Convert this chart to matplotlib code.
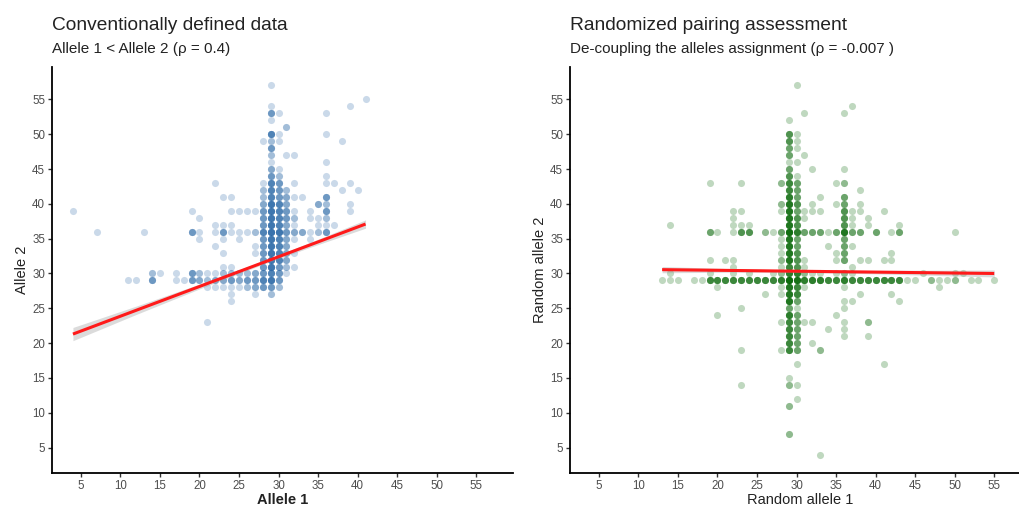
import numpy as np
import matplotlib
matplotlib.use("Agg")
import matplotlib.pyplot as plt

plt.rcParams['font.family'] = ['Liberation Sans', 'DejaVu Sans']

# ---- left panel: conventional allele pairs (allele1, allele2, how many overlap) ----
conv_low = [(4, 39, 1), (7, 36, 1), (13, 36, 1), (11, 29, 1), (12, 29, 1), (14, 30, 2), (14, 29, 4),
            (15, 30, 1), (17, 30, 1), (17, 29, 1), (18, 29, 1), (19, 30, 4), (19, 29, 4),
            (20, 30, 2), (20, 29, 3), (21, 30, 1), (21, 29, 2), (21, 28, 1), (22, 30, 1), (22, 29, 3),
            (22, 28, 1), (23, 31, 1), (23, 30, 2), (23, 29, 3), (23, 28, 1), (24, 31, 1), (24, 30, 2),
            (24, 29, 4), (24, 28, 1), (24, 27, 1), (24, 26, 1), (25, 30, 2), (25, 29, 3), (25, 28, 1),
            (26, 30, 2), (26, 29, 4), (26, 28, 2), (27, 30, 3), (27, 29, 4), (27, 28, 3), (27, 27, 1),
            (28, 30, 4), (28, 29, 6), (28, 28, 4), (21, 23, 1)]
conv_mid = [(19, 39, 1), (20, 38, 1), (19, 36, 4), (20, 36, 1), (20, 35, 1), (22, 43, 1), (23, 41, 1),
            (24, 41, 1), (24, 39, 1), (25, 39, 1), (26, 39, 1), (27, 39, 1), (22, 37, 1), (23, 37, 1),
            (22, 36, 1), (23, 36, 4), (24, 37, 1), (24, 36, 1), (25, 36, 1), (26, 36, 1), (27, 36, 2),
            (23, 35, 1), (25, 35, 1), (22, 34, 1), (23, 33, 1), (27, 34, 1), (27, 33, 1)]
conv_col = [(28, 49, 1), (28, 43, 1), (28, 42, 2), (28, 41, 2), (28, 40, 3), (28, 39, 4), (28, 38, 4),
            (28, 37, 4), (28, 36, 6), (28, 35, 4), (28, 34, 4), (28, 33, 4), (28, 32, 4), (28, 31, 4),
            (29, 57, 1), (29, 54, 1), (29, 53, 4), (29, 52, 1), (29, 50, 6), (29, 49, 2), (29, 48, 4),
            (29, 47, 2), (29, 46, 1), (29, 45, 3), (29, 44, 4), (29, 43, 6), (29, 42, 6), (29, 41, 6),
            (29, 40, 8), (29, 39, 8), (29, 38, 8), (29, 37, 8), (29, 36, 9), (29, 35, 8), (29, 34, 8),
            (29, 33, 8), (29, 32, 8), (29, 31, 8), (29, 30, 6), (29, 29, 8), (29, 28, 4), (29, 27, 2),
            (30, 53, 1), (30, 50, 1), (30, 49, 1), (30, 45, 1), (30, 44, 2), (30, 43, 4), (30, 42, 4),
            (30, 41, 4), (30, 40, 6), (30, 39, 6), (30, 38, 6), (30, 37, 6), (30, 36, 8), (30, 35, 6),
            (30, 34, 6), (30, 33, 6), (30, 32, 6), (30, 31, 4), (30, 30, 4), (30, 29, 4), (30, 28, 2),
            (31, 51, 2), (31, 47, 1), (31, 42, 2), (31, 41, 3), (31, 40, 3), (31, 39, 4), (31, 38, 4),
            (31, 37, 3), (31, 36, 4), (31, 35, 3), (31, 34, 3), (31, 33, 3), (31, 32, 3), (31, 31, 2),
            (31, 30, 1)]
conv_high = [(32, 47, 1), (32, 43, 1), (32, 41, 1), (32, 39, 1), (32, 38, 2), (32, 37, 1), (32, 36, 3),
             (32, 35, 1), (32, 33, 1), (32, 31, 1), (33, 41, 1), (33, 36, 3), (34, 39, 1), (34, 38, 1),
             (34, 36, 1), (34, 35, 1), (35, 40, 3), (35, 38, 1), (35, 37, 1), (35, 36, 2), (36, 53, 1),
             (36, 50, 1), (36, 46, 1), (36, 44, 1), (36, 43, 1), (36, 41, 4), (36, 40, 2), (36, 39, 4),
             (36, 38, 2), (36, 37, 1), (36, 36, 4), (37, 43, 1), (37, 37, 1), (38, 49, 1), (38, 42, 1),
             (39, 54, 1), (39, 43, 1), (39, 40, 1), (39, 39, 1), (40, 42, 1), (41, 55, 1)]

# fitted line and its confidence band
conv_fit_x = [4, 41]
conv_fit_y = [21.3, 37.1]
conv_band_x = [4, 12, 20, 28, 34, 41]
conv_band_hw = [0.95, 0.6, 0.35, 0.25, 0.35, 0.6]

# ---- right panel: randomly paired alleles ----
rand_row = [(13, 29, 1), (14, 29, 1), (15, 29, 1), (17, 29, 1), (18, 29, 1), (19, 29, 5), (20, 29, 5),
            (21, 29, 5), (22, 29, 5), (23, 29, 5), (24, 29, 5), (25, 29, 5), (26, 29, 5), (27, 29, 5),
            (28, 29, 6), (29, 29, 10), (30, 29, 8), (31, 29, 6), (32, 29, 6), (33, 29, 6), (34, 29, 5),
            (35, 29, 5), (36, 29, 6), (37, 29, 5), (38, 29, 5), (39, 29, 5), (40, 29, 5), (41, 29, 5),
            (42, 29, 5), (43, 29, 5), (44, 29, 1), (45, 29, 1), (47, 29, 2), (48, 29, 1), (49, 29, 1),
            (50, 29, 2), (52, 29, 1), (53, 29, 1), (55, 29, 1),
            (14, 30, 1), (19, 30, 1), (22, 30, 1), (24, 30, 1), (27, 30, 1), (28, 30, 2), (29, 30, 6),
            (30, 30, 6), (31, 30, 2), (32, 30, 1), (33, 30, 1), (35, 30, 1), (36, 30, 2), (37, 30, 1),
            (46, 30, 1), (50, 30, 1), (51, 30, 1)]
rand_below = [(20, 28, 1), (28, 28, 1), (29, 28, 7), (30, 28, 5), (31, 28, 1), (36, 28, 1), (48, 28, 1),
              (26, 27, 1), (28, 27, 1), (29, 27, 7), (30, 27, 5), (38, 27, 1), (42, 27, 1),
              (29, 26, 7), (30, 26, 3), (36, 26, 1), (37, 26, 1), (43, 26, 1),
              (23, 25, 1), (29, 25, 3), (30, 25, 1), (36, 25, 1),
              (20, 24, 1), (29, 24, 6), (30, 24, 3), (35, 24, 1),
              (28, 23, 1), (29, 23, 5), (30, 23, 3), (31, 23, 1), (32, 23, 1), (36, 23, 1), (39, 23, 2),
              (29, 22, 5), (30, 22, 3), (34, 22, 1), (36, 22, 1),
              (29, 21, 5), (30, 21, 3), (36, 21, 1), (39, 21, 1),
              (29, 20, 5), (30, 20, 3), (32, 20, 1),
              (23, 19, 1), (28, 19, 1), (29, 19, 5), (30, 19, 3), (33, 19, 2),
              (30, 17, 1), (41, 17, 1), (29, 15, 1), (23, 14, 1), (29, 14, 2), (30, 14, 1),
              (30, 12, 1), (29, 11, 2), (29, 7, 2), (33, 4, 1)]
rand_above = [(22, 31, 1), (28, 31, 1), (29, 31, 5), (30, 31, 4), (31, 31, 1), (37, 31, 1),
              (19, 32, 1), (21, 32, 1), (22, 32, 1), (28, 32, 2), (29, 32, 7), (30, 32, 4), (31, 32, 1),
              (35, 32, 1), (36, 32, 3), (38, 32, 1), (39, 32, 1), (41, 32, 1), (42, 32, 1),
              (28, 33, 1), (29, 33, 7), (30, 33, 4), (35, 33, 1), (36, 33, 3), (42, 33, 1),
              (28, 34, 1), (29, 34, 7), (30, 34, 3), (34, 34, 1), (36, 34, 3), (37, 34, 1),
              (28, 35, 1), (29, 35, 7), (30, 35, 3), (36, 35, 3),
              (19, 36, 3), (20, 36, 1), (22, 36, 1), (23, 36, 4), (24, 36, 4), (26, 36, 2), (27, 36, 1),
              (28, 36, 3), (29, 36, 9), (30, 36, 6), (31, 36, 3), (32, 36, 3), (33, 36, 3), (34, 36, 1),
              (35, 36, 3), (36, 36, 7), (37, 36, 3), (38, 36, 3), (40, 36, 3), (42, 36, 1), (43, 36, 3),
              (50, 36, 1),
              (14, 37, 1), (22, 37, 1), (23, 37, 1), (24, 37, 1), (29, 37, 7), (30, 37, 4), (36, 37, 4),
              (37, 37, 1), (39, 37, 1), (43, 37, 1),
              (22, 38, 1), (29, 38, 7), (30, 38, 4), (31, 38, 1), (36, 38, 4), (37, 38, 1), (39, 38, 1),
              (22, 39, 1), (23, 39, 1), (28, 39, 1), (29, 39, 7), (30, 39, 3), (31, 39, 1), (32, 39, 1),
              (33, 39, 1), (36, 39, 4), (37, 39, 1), (38, 39, 1), (41, 39, 1),
              (28, 40, 2), (29, 40, 7), (30, 40, 4), (32, 40, 1), (35, 40, 1), (36, 40, 3), (38, 40, 1),
              (29, 41, 6), (30, 41, 3), (33, 41, 1), (36, 41, 3),
              (29, 42, 5), (30, 42, 3), (38, 42, 1),
              (19, 43, 1), (23, 43, 1), (28, 43, 2), (29, 43, 5), (30, 43, 3), (35, 43, 1), (36, 43, 2),
              (29, 44, 4), (30, 44, 1), (29, 45, 3), (32, 45, 1), (36, 45, 1),
              (29, 46, 1), (30, 46, 1), (29, 47, 3), (31, 47, 1), (29, 48, 3), (30, 48, 1),
              (29, 49, 4), (30, 49, 1), (29, 50, 4), (30, 50, 1), (29, 52, 1),
              (31, 53, 1), (36, 53, 1), (37, 54, 1), (30, 57, 1)]

rand_fit_x = [13, 55]
rand_fit_y = [30.55, 30.0]
rand_band_x = [13, 22, 30, 40, 55]
rand_band_hw = [0.45, 0.25, 0.18, 0.25, 0.5]

ticks = [5, 10, 15, 20, 25, 30, 35, 40, 45, 50, 55]
lims = (1.35, 59.65)


def expand(*groups):
    arr = np.array([p for g in groups for p in g], dtype=float)
    n = arr[:, 2].astype(int)
    return np.repeat(arr[:, 0], n), np.repeat(arr[:, 1], n)


def style(ax, xlabel, ylabel, xweight='normal'):
    ax.set_xlim(lims)
    ax.set_ylim(lims)
    ax.set_xticks(ticks)
    ax.set_yticks(ticks)
    for s in ['top', 'right']:
        ax.spines[s].set_visible(False)
    for s in ['left', 'bottom']:
        ax.spines[s].set_linewidth(1.3)
    ax.tick_params(length=3, width=1, colors='#333333', labelsize=8.3, labelcolor='#4d4d4d', pad=2)
    ax.set_xlabel(xlabel, fontsize=10.5, color='#222222', fontweight=xweight, labelpad=1)
    ax.set_ylabel(ylabel, fontsize=10.5, color='#222222', labelpad=2)


fig = plt.figure(figsize=(10.2, 5.08), dpi=100)
ax1 = fig.add_axes([52 / 1020, 35 / 508, 461 / 1020, 406 / 508])
ax2 = fig.add_axes([570 / 1020, 35 / 508, 461 / 1020, 406 / 508])

x1, y1 = expand(conv_low, conv_mid, conv_col, conv_high)
ax1.scatter(x1, y1, s=26, color='#2c6aa8', alpha=0.25, linewidths=0)
bx = np.array(conv_band_x, dtype=float)
by = np.interp(bx, conv_fit_x, conv_fit_y)
ax1.fill_between(bx, by - np.array(conv_band_hw), by + np.array(conv_band_hw), color='#999999', alpha=0.35, linewidth=0)
ax1.plot(conv_fit_x, conv_fit_y, color='#ff1a1a', lw=2.2, solid_capstyle='butt')
style(ax1, 'Allele 1', 'Allele 2', 'bold')

x2, y2 = expand(rand_row, rand_below, rand_above)
ax2.scatter(x2, y2, s=26, color='#006400', alpha=0.25, linewidths=0)
bx = np.array(rand_band_x, dtype=float)
by = np.interp(bx, rand_fit_x, rand_fit_y)
ax2.fill_between(bx, by - np.array(rand_band_hw), by + np.array(rand_band_hw), color='#999999', alpha=0.35, linewidth=0)
ax2.plot(rand_fit_x, rand_fit_y, color='#ff1a1a', lw=2.2, solid_capstyle='butt')
style(ax2, 'Random allele 1', 'Random allele 2')

fig.text(52 / 1020, 1 - 25 / 508, 'Conventionally defined data', fontsize=13.8, color='#222222', va='center')
fig.text(52 / 1020, 1 - 49 / 508, 'Allele 1 < Allele 2 (ρ = 0.4)', fontsize=11, color='#222222', va='center')
fig.text(570 / 1020, 1 - 25 / 508, 'Randomized pairing assessment', fontsize=13.8, color='#222222', va='center')
fig.text(570 / 1020, 1 - 49 / 508, 'De-coupling the alleles assignment (ρ = -0.007 )', fontsize=11, color='#222222', va='center')

fig.savefig('out.png', dpi=100)
